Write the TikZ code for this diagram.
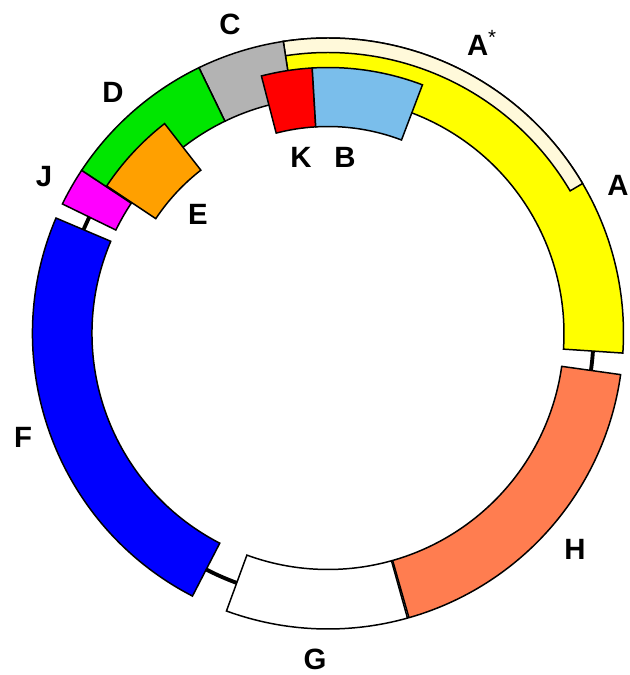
\documentclass[tikz,border=0pt]{standalone}
\usepackage{fontspec}
\setmainfont{Liberation Sans}
\definecolor{cA}{RGB}{255,255,0}
\definecolor{cAstar}{RGB}{255,249,218}
\definecolor{cC}{RGB}{179,179,179}
\definecolor{cD}{RGB}{0,230,0}
\definecolor{cE}{RGB}{255,160,0}
\definecolor{cJ}{RGB}{255,0,255}
\definecolor{cK}{RGB}{255,0,0}
\definecolor{cB}{RGB}{122,190,235}
\definecolor{cF}{RGB}{0,0,255}
\definecolor{cG}{RGB}{255,255,255}
\definecolor{cH}{RGB}{255,125,80}
\newcommand{\ringseg}[5]{%
  \filldraw[segline, fill=#1] (#2:#4) arc[start angle=#2, end angle=#3, radius=#4]
    -- (#3:#5) arc[start angle=#3, end angle=#2, radius=#5] -- cycle;}
\begin{document}
\begin{tikzpicture}[x=0.02cm, y=0.02cm,
  segline/.style={draw=black, line width=0.85pt, line join=miter},
  backbone/.style={draw=black, line width=2.2pt},
  lbl/.style={font=\fontsize{16.7}{20}\selectfont\bfseries, inner sep=0pt, anchor=base}]
\useasboundingbox (-328,-341.5) rectangle (301,333.5);
% backbone circle
\draw[backbone] (0,0) circle[radius=265.5];
% main ring segments
\ringseg{cA}{98.7}{-3.8}{236}{295.5}
\ringseg{cAstar}{98.7}{30.5}{281}{295.5}
\ringseg{cC}{115.9}{98.7}{236}{295.5}
\ringseg{cD}{146.5}{115.9}{236}{295.5}
\ringseg{cJ}{154}{146.5}{236}{295.5}
\ringseg{cF}{242.7}{157}{236}{295.5}
\ringseg{cG}{285.6}{249.9}{236}{295.5}
\ringseg{cH}{352}{285.9}{236}{295.5}
% inner segments
\ringseg{cE}{146.3}{127.9}{207}{266}
\ringseg{cK}{104.5}{93.4}{207}{266}
\ringseg{cB}{93.4}{69.2}{207}{266}
% labels
\node[lbl] (labC) at (-98,298.5) {C};
\node[lbl, anchor=base west] (labAs) at (138.7,277.5) {A\textsuperscript{\mdseries*}};
\node[lbl] (labA) at (290,138) {A};
\node[lbl] (labD) at (-215,230.5) {D};
\node[lbl] (labJ) at (-284,147) {J};
\node[lbl] (labE) at (-130,108.5) {E};
\node[lbl] (labK) at (-27,165.5) {K};
\node[lbl] (labB) at (17,165.5) {B};
\node[lbl] (labF) at (-305,-114.5) {F};
\node[lbl] (labG) at (-13,-335.5) {G};
\node[lbl] (labH) at (247,-225.5) {H};
\end{tikzpicture}
\end{document}
